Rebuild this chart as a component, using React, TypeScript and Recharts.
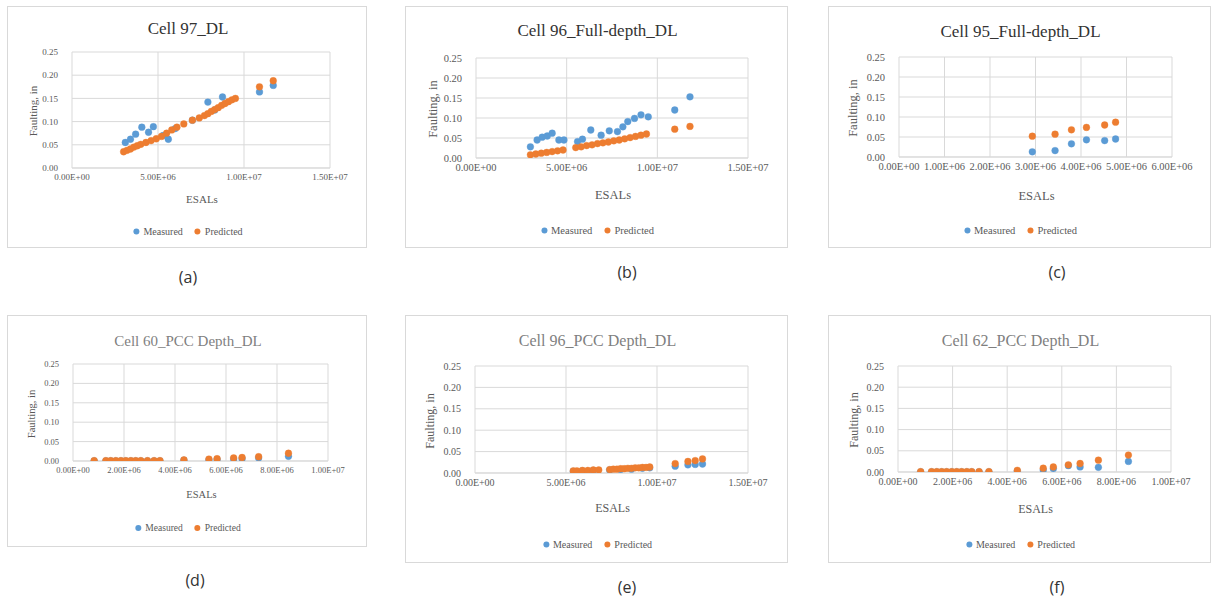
import React from 'react';
import { ScatterChart, Scatter, XAxis, YAxis, CartesianGrid } from 'recharts';

// ---------- DATA (ESALs, faulting in inches) ----------
const yTicks = [0, 0.05, 0.1, 0.15, 0.2, 0.25];
const xTicks15 = [0, 5e6, 1e7, 1.5e7];
const xTicks6 = [0, 1e6, 2e6, 3e6, 4e6, 5e6, 6e6];
const xTicks10 = [0, 2e6, 4e6, 6e6, 8e6, 1e7];

const cell97Measured = [
  [3.1e6, 0.055], [3.4e6, 0.062], [3.7e6, 0.073], [4.06e6, 0.088], [4.45e6, 0.077], [4.73e6, 0.089],
  [5.3e6, 0.07], [5.6e6, 0.062], [6.0e6, 0.085], [7.0e6, 0.103], [7.9e6, 0.142], [8.3e6, 0.125],
  [8.75e6, 0.153], [10.9e6, 0.164], [11.7e6, 0.178],
];
const cell97Predicted = [
  [3.0e6, 0.035], [3.2e6, 0.038], [3.4e6, 0.041], [3.6e6, 0.045], [3.8e6, 0.048], [4.0e6, 0.051],
  [4.3e6, 0.055], [4.6e6, 0.059], [4.9e6, 0.063], [5.2e6, 0.068], [5.5e6, 0.075], [5.8e6, 0.082],
  [6.1e6, 0.088], [6.5e6, 0.095], [7.0e6, 0.103], [7.4e6, 0.108], [7.7e6, 0.113], [7.9e6, 0.117],
  [8.1e6, 0.122], [8.3e6, 0.126], [8.5e6, 0.13], [8.7e6, 0.135], [8.9e6, 0.139], [9.1e6, 0.143],
  [9.3e6, 0.147], [9.5e6, 0.15], [10.9e6, 0.175], [11.7e6, 0.188],
];

const cell96FullMeasured = [
  [3.0e6, 0.028], [3.37e6, 0.045], [3.65e6, 0.052], [3.93e6, 0.055], [4.2e6, 0.062], [4.57e6, 0.045],
  [4.85e6, 0.045], [5.6e6, 0.041], [5.87e6, 0.047], [6.33e6, 0.07], [6.9e6, 0.057], [7.35e6, 0.068],
  [7.8e6, 0.066], [8.1e6, 0.078], [8.37e6, 0.091], [8.74e6, 0.099], [9.1e6, 0.108], [9.5e6, 0.103],
  [10.96e6, 0.12], [11.8e6, 0.153],
];
const cell96FullPredicted = [
  [3.0e6, 0.008], [3.3e6, 0.01], [3.6e6, 0.012], [3.9e6, 0.014], [4.2e6, 0.016], [4.5e6, 0.018],
  [4.8e6, 0.02], [5.5e6, 0.026], [5.8e6, 0.028], [6.1e6, 0.031], [6.4e6, 0.033], [6.7e6, 0.036],
  [7.0e6, 0.038], [7.3e6, 0.04], [7.6e6, 0.043], [7.9e6, 0.045], [8.2e6, 0.048], [8.5e6, 0.051],
  [8.8e6, 0.054], [9.1e6, 0.057], [9.4e6, 0.06], [10.96e6, 0.072], [11.8e6, 0.079],
];

const cell95Measured = [
  [2.93e6, 0.013], [3.43e6, 0.016], [3.79e6, 0.033], [4.12e6, 0.043], [4.52e6, 0.041], [4.76e6, 0.045],
];
const cell95Predicted = [
  [2.93e6, 0.052], [3.43e6, 0.057], [3.79e6, 0.068], [4.12e6, 0.074], [4.52e6, 0.08], [4.76e6, 0.087],
];

const cell60Measured = [
  [0.83e6, 0.0], [1.29e6, 0.0], [1.48e6, 0.0], [1.68e6, 0.0], [1.88e6, 0.0], [2.07e6, 0.0],
  [2.27e6, 0.0], [2.46e6, 0.0], [2.66e6, 0.0], [2.92e6, 0.0], [3.18e6, 0.0], [3.41e6, 0.0],
  [4.35e6, 0.002], [5.33e6, 0.003], [5.65e6, 0.004], [6.3e6, 0.005], [6.63e6, 0.006], [7.28e6, 0.008],
  [8.45e6, 0.012],
];
const cell60Predicted = [
  [0.83e6, 0.001], [1.29e6, 0.001], [1.48e6, 0.001], [1.68e6, 0.001], [1.88e6, 0.001], [2.07e6, 0.001],
  [2.27e6, 0.001], [2.46e6, 0.001], [2.66e6, 0.001], [2.92e6, 0.001], [3.18e6, 0.001], [3.41e6, 0.001],
  [4.35e6, 0.003], [5.33e6, 0.005], [5.65e6, 0.006], [6.3e6, 0.008], [6.63e6, 0.009], [7.28e6, 0.011],
  [8.45e6, 0.02],
];

const cell96PccMeasured = [
  [5.4e6, 0.004], [5.9e6, 0.005], [6.5e6, 0.006], [7.4e6, 0.007], [8.0e6, 0.008], [8.6e6, 0.009],
  [9.2e6, 0.011], [9.6e6, 0.012], [11.0e6, 0.016], [11.7e6, 0.019], [12.1e6, 0.02], [12.5e6, 0.021],
];
const cell96PccPredicted = [
  [5.4e6, 0.005], [5.6e6, 0.005], [5.9e6, 0.006], [6.2e6, 0.006], [6.5e6, 0.007], [6.8e6, 0.007],
  [7.4e6, 0.008], [7.6e6, 0.009], [7.8e6, 0.009], [8.0e6, 0.01], [8.2e6, 0.01], [8.4e6, 0.011],
  [8.6e6, 0.011], [8.8e6, 0.012], [9.0e6, 0.012], [9.2e6, 0.013], [9.4e6, 0.013], [9.6e6, 0.014],
  [11.0e6, 0.022], [11.7e6, 0.027], [12.1e6, 0.029], [12.5e6, 0.033],
];

const cell62Measured = [
  [0.83e6, 0.0], [1.23e6, 0.0], [1.42e6, 0.0], [1.6e6, 0.0], [1.78e6, 0.0], [1.97e6, 0.0],
  [2.15e6, 0.0], [2.33e6, 0.0], [2.52e6, 0.0], [2.7e6, 0.0], [2.97e6, 0.0], [3.33e6, 0.0],
  [4.37e6, 0.002], [5.32e6, 0.005], [5.69e6, 0.008], [6.24e6, 0.015], [6.67e6, 0.012], [7.34e6, 0.011],
  [8.44e6, 0.025],
];
const cell62Predicted = [
  [0.83e6, 0.001], [1.23e6, 0.001], [1.42e6, 0.001], [1.6e6, 0.001], [1.78e6, 0.001], [1.97e6, 0.001],
  [2.15e6, 0.001], [2.33e6, 0.001], [2.52e6, 0.001], [2.7e6, 0.001], [2.97e6, 0.001], [3.33e6, 0.001],
  [4.37e6, 0.004], [5.32e6, 0.009], [5.69e6, 0.012], [6.24e6, 0.017], [6.67e6, 0.02], [7.34e6, 0.028],
  [8.44e6, 0.04],
];

// ---------- STYLE ----------
const BLUE = '#5B9BD5';
const ORANGE = '#ED7D31';
const GRID = '#d9d9d9';
const SERIF = '"Liberation Serif", "DejaVu Serif", serif';
const SANS = '"Open Sans", "Liberation Sans", sans-serif';

const toPts = (arr: number[][]) => arr.map(([x, y]) => ({ x, y }));

const fmtE = (v: number) => {
  if (v === 0) return '0.00E+00';
  const e = Math.floor(Math.log10(v) + 1e-9);
  const m = v / Math.pow(10, e);
  return m.toFixed(2) + 'E+' + String(e).padStart(2, '0');
};

const Dot = (color: string) => (props: any) => {
  const { cx, cy } = props;
  if (cx == null || cy == null) return null;
  return <circle cx={cx} cy={cy} r={3.4} fill={color} stroke={color} strokeOpacity={0.6} strokeWidth={0.6} />;
};

type PanelCfg = {
  title: string;
  titleColor: string;
  titleSize: number;
  box: [number, number, number, number];
  plot: [number, number, number, number];
  xTicks: number[];
  tickSize: number;
  titleY: number;
  xLabelY: number;
  legendY: number;
  yLabelX: number;
  caption: string;
  captionX: number;
  captionY: number;
  measured: number[][];
  predicted: number[][];
  legendSize: number;
};

const panels: PanelCfg[] = [
  {
    title: 'Cell 97_DL', titleColor: '#333333', titleSize: 17,
    box: [7, 6, 367, 248], plot: [72, 52, 330, 168], xTicks: xTicks15, tickSize: 9,
    titleY: 28, xLabelY: 198, legendY: 230, yLabelX: 32, caption: '(a)', captionX: 188, captionY: 277,
    measured: cell97Measured, predicted: cell97Predicted, legendSize: 10,
  },
  {
    title: 'Cell 96_Full-depth_DL', titleColor: '#333333', titleSize: 17,
    box: [405, 6, 788, 248], plot: [476, 58, 748, 158], xTicks: xTicks15, tickSize: 10.5,
    titleY: 30, xLabelY: 194, legendY: 229, yLabelX: 432, caption: '(b)', captionX: 627, captionY: 272,
    measured: cell96FullMeasured, predicted: cell96FullPredicted, legendSize: 10.5,
  },
  {
    title: 'Cell 95_Full-depth_DL', titleColor: '#333333', titleSize: 17,
    box: [828, 6, 1211, 248], plot: [899, 57, 1172, 157], xTicks: xTicks6, tickSize: 10.5,
    titleY: 31, xLabelY: 195, legendY: 229, yLabelX: 852, caption: '(c)', captionX: 1057, captionY: 272,
    measured: cell95Measured, predicted: cell95Predicted, legendSize: 10.5,
  },
  {
    title: 'Cell 60_PCC Depth_DL', titleColor: '#7f7f7f', titleSize: 15,
    box: [7, 315, 367, 547], plot: [73, 364, 328, 461], xTicks: xTicks10, tickSize: 8.5,
    titleY: 340, xLabelY: 493, legendY: 527, yLabelX: 30, caption: '(d)', captionX: 195, captionY: 580,
    measured: cell60Measured, predicted: cell60Predicted, legendSize: 9.5,
  },
  {
    title: 'Cell 96_PCC Depth_DL', titleColor: '#7f7f7f', titleSize: 16,
    box: [405, 315, 788, 563], plot: [475, 366, 748, 473], xTicks: xTicks15, tickSize: 10,
    titleY: 340, xLabelY: 507, legendY: 543, yLabelX: 429, caption: '(e)', captionX: 627, captionY: 587,
    measured: cell96PccMeasured, predicted: cell96PccPredicted, legendSize: 10,
  },
  {
    title: 'Cell 62_PCC Depth_DL', titleColor: '#7f7f7f', titleSize: 16,
    box: [828, 315, 1211, 563], plot: [898, 366, 1171, 472], xTicks: xTicks10, tickSize: 10,
    titleY: 340, xLabelY: 508, legendY: 543, yLabelX: 853, caption: '(f)', captionX: 1057, captionY: 587,
    measured: cell62Measured, predicted: cell62Predicted, legendSize: 10,
  },
];

const YW = 40;
const XH = 24;

function Panel({ cfg }: { cfg: PanelCfg }) {
  const [bl, bt, br, bb] = cfg.box;
  const [pl, pt, pr, pb] = cfg.plot;
  const w = br - bl;
  const h = bb - bt;
  const margin = {
    left: pl - bl - YW,
    top: pt - bt,
    right: br - pr,
    bottom: bb - pb - XH,
  };
  const xMax = cfg.xTicks[cfg.xTicks.length - 1];
  const tickStyle = { fontSize: cfg.tickSize, fill: '#595959', style: { fontFamily: SERIF } };
  const cx = (bl + br) / 2;
  const abs = (x: number, y: number): React.CSSProperties => ({
    position: 'absolute', left: x - bl, top: y - bt, transform: 'translate(-50%, -50%)', whiteSpace: 'nowrap',
  });
  return (
    <>
      <div
        style={{
          position: 'absolute', left: bl, top: bt, width: w, height: h,
          border: `1px solid ${GRID}`, boxSizing: 'border-box', background: '#fff', fontFamily: SERIF,
        }}
      >
        <div style={{ position: 'absolute', left: -1, top: -1, fontFamily: SERIF }}>
          <ScatterChart width={w} height={h} margin={margin} style={{ fontFamily: SERIF }}>
            <CartesianGrid stroke={GRID} strokeWidth={1} />
            <XAxis
              type="number" dataKey="x" domain={[0, xMax]} ticks={cfg.xTicks} allowDataOverflow
              tickFormatter={fmtE} interval={0} height={XH} axisLine={{ stroke: GRID }} tickLine={false}
              tickSize={3} tickMargin={3} tick={tickStyle}
            />
            <YAxis
              type="number" dataKey="y" domain={[0, 0.25]} ticks={yTicks} allowDataOverflow
              tickFormatter={(v: number) => v.toFixed(2)} interval={0} width={YW}
              axisLine={false} tickLine={false} tickSize={3} tickMargin={11} tick={tickStyle}
            />
            <Scatter name="Measured" data={toPts(cfg.measured)} fill={BLUE} shape={Dot(BLUE)} isAnimationActive={false} />
            <Scatter name="Predicted" data={toPts(cfg.predicted)} fill={ORANGE} shape={Dot(ORANGE)} isAnimationActive={false} />
          </ScatterChart>
        </div>
        <div style={{ ...abs(cx, cfg.titleY), fontFamily: SERIF, fontSize: cfg.titleSize, color: cfg.titleColor }}>
          {cfg.title}
        </div>
        <div style={{ ...abs((pl + pr) / 2, cfg.xLabelY), fontFamily: SERIF, fontSize: cfg.tickSize + 2, color: '#595959' }}>
          ESALs
        </div>
        <div
          style={{
            ...abs(cfg.yLabelX, (pt + pb) / 2), transform: 'translate(-50%, -50%) rotate(-90deg)',
            fontFamily: SERIF, fontSize: cfg.tickSize + 2, color: '#595959',
          }}
        >
          Faulting, in
        </div>
        <div
          style={{
            ...abs(cx, cfg.legendY), fontFamily: SERIF, fontSize: cfg.legendSize, color: '#595959',
            display: 'flex', alignItems: 'center', gap: 4,
          }}
        >
          <span style={{ display: 'inline-block', width: 6, height: 6, borderRadius: 3, background: BLUE }} />
          <span>Measured</span>
          <span style={{ display: 'inline-block', width: 6, height: 6, borderRadius: 3, background: ORANGE, marginLeft: 8 }} />
          <span>Predicted</span>
        </div>
      </div>
      <div
        style={{
          position: 'absolute', left: cfg.captionX, top: cfg.captionY, transform: 'translate(-50%, -50%)',
          fontFamily: SANS, fontSize: 16, color: '#333',
        }}
      >
        {cfg.caption}
      </div>
    </>
  );
}

export default function App() {
  return (
    <div style={{ position: 'fixed', left: 0, top: 0, width: 1211, height: 601, background: '#fff', overflow: 'hidden' }}>
      {panels.map((p) => (
        <Panel key={p.caption} cfg={p} />
      ))}
    </div>
  );
}
